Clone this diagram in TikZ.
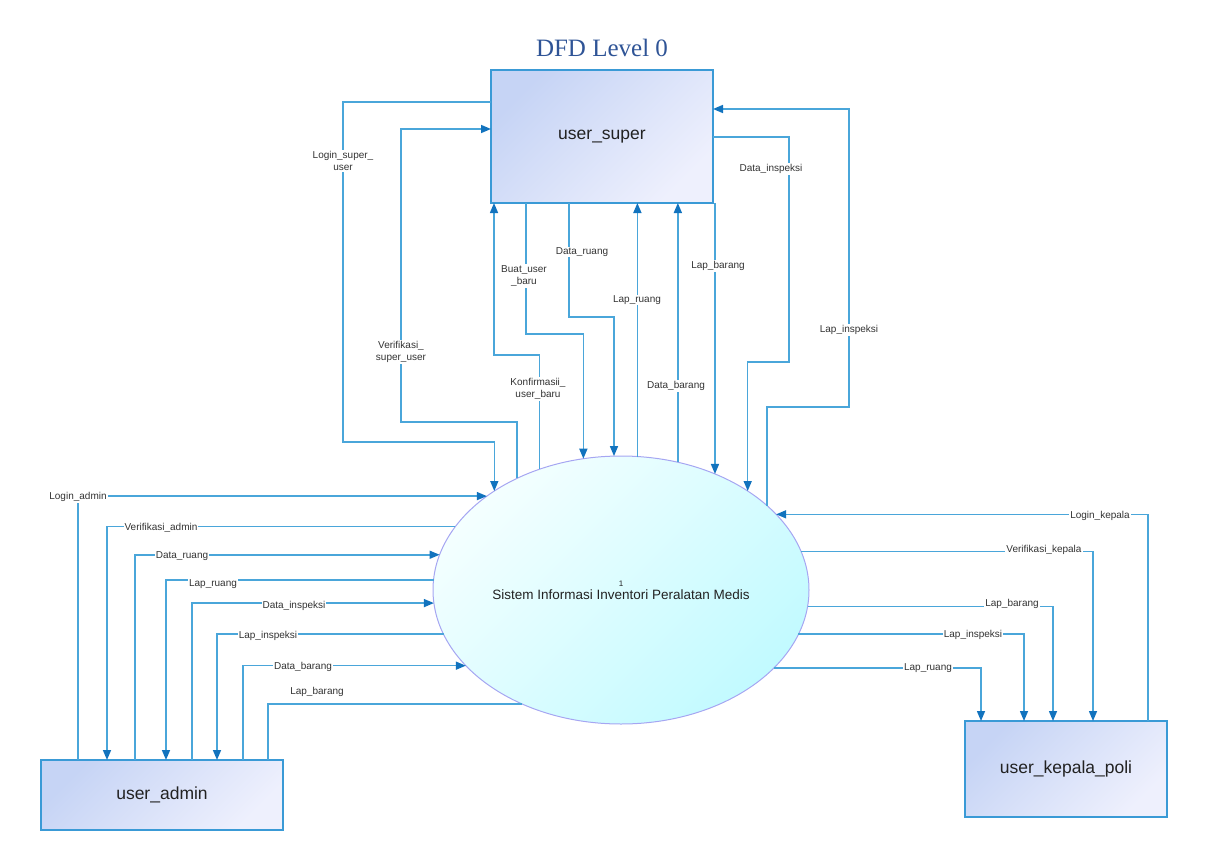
\documentclass[tikz,border=0pt]{standalone}
\usepackage{fontspec}
\setmainfont{Liberation Sans}
\newfontfamily\titlefont{Liberation Serif}
\usepackage{xcolor}
\usepackage{tikz}
\usetikzlibrary{shapes.geometric,arrows.meta}

\definecolor{flowblue}{HTML}{4AA6DA}
\definecolor{tipblue}{HTML}{1273BE}
\definecolor{boxline}{HTML}{3A9AD6}
\definecolor{boxA}{HTML}{C6D4F5}
\definecolor{boxB}{HTML}{EEF0FD}
\definecolor{procA}{HTML}{F4FFFF}
\definecolor{procB}{HTML}{C2FAFF}
\definecolor{procline}{HTML}{A6A6F2}
\definecolor{titleblue}{HTML}{2F5496}
\definecolor{textdark}{HTML}{222222}
\definecolor{labelgray}{HTML}{333333}

\begin{document}
\begin{tikzpicture}[x=1pt,y=1pt,
  entity/.style={draw=boxline, line width=1.3pt, top color=boxA, bottom color=boxB,
    shading angle=45, inner sep=0pt, outer sep=0pt, text=textdark,
    font=\fontsize{17.5}{20}\selectfont},
  process/.style={ellipse, draw=procline, line width=1pt, top color=procA, bottom color=procB,
    shading angle=45, inner sep=0pt, outer sep=0pt, minimum width=376pt, minimum height=268pt,
    align=center, text=textdark},
  flow/.style={draw=flowblue, line width=1.5pt, -{Triangle[length=10pt,width=8pt,color=tipblue]}},
  lbl/.style={fill=white, inner sep=1pt, text=labelgray, align=center,
    font=\fontsize{10}{12.5}\selectfont}]
  \useasboundingbox (0,0) rectangle (1208,-862);

  % Title
  \node[anchor=base, text=titleblue, font=\titlefont\fontsize{25}{28}\selectfont] (title) at (602,-56) {DFD Level 0};

  % Entities and process
  \node[entity, minimum width=222pt, minimum height=133pt] (super) at (602,-136.5) {user\_super};
  \node[entity, minimum width=242pt, minimum height=70pt] (admin) at (162,-795) {user\_admin};
  \node[entity, minimum width=202pt, minimum height=96pt] (kepala) at (1066,-769) {user\_kepala\_poli};
  \node[process] (proc) at (621,-590)
    {{\fontsize{8}{9}\selectfont 1}\\[1pt]{\fontsize{13.5}{16}\selectfont Sistem Informasi Inventori Peralatan Medis}};

  % Flows between user_super and the process
  \draw[flow] (super.west |- 0,-102) -| (343,-442) -| (proc.142.5);
  \draw[flow] (proc.133.7) |- (401,-422) |- (super.west |- 0,-129);
  \draw[flow] (super.south -| 526,0) |- (proc.106.2 |- 0,-334) -- (proc.106.2);
  \draw[flow] (proc.124.6) |- (494,-355) -- (super.south -| 494,0);
  \draw[flow] (super.south -| 569,0) |- (proc.93.8 |- 0,-317) -- (proc.93.8);
  \draw[flow] (proc.83.2) -- (proc.83.2 |- super.south);
  \draw[flow] (proc.66.8) -- (proc.66.8 |- super.south);
  \draw[flow] (proc.51.8 |- super.south) -- (proc.51.8);
  \draw[flow] (super.east |- 0,-137) -| (789,-362) -| (proc.38.3);
  \draw[flow] (proc.30) |- (849,-407) |- (super.east |- 0,-109);

  % Flows between user_admin and the process
  \draw[flow] (admin.north -| 78,0) |- (proc.145);
  \draw[flow] (proc.159.2) -| (admin.north -| 107,0);
  \draw[flow] (admin.north -| 135,0) |- (proc.169.4);
  \draw[flow] (proc.177.9) -| (admin.north -| 166,0);
  \draw[flow] (admin.north -| 192,0) |- (proc.184.9);
  \draw[flow] (proc.194.9) -| (admin.north -| 217,0);
  \draw[flow] (admin.north -| 243,0) |- (proc.206.6);
  \draw[flow, -] (proc.229.1) -| (admin.north -| 268,0);

  % Flows between user_kepala_poli and the process
  \draw[flow] (kepala.north -| 1148,0) |- (proc.26.6);
  \draw[flow] (proc.12.9) -| (kepala.north -| 1093,0);
  \draw[flow] (proc.355.4) -| (kepala.north -| 1053,0);
  \draw[flow] (proc.346.4) -| (kepala.north -| 1024,0);
  \draw[flow] (proc.333) -| (kepala.north -| 981,0);

  % Labels, top
  \node[lbl] (l1) at (343,-161) {Login\_super\_\\user};
  \node[lbl] (l2) at (401,-352) {Verifikasi\_\\super\_user};
  \node[lbl] (l3) at (524,-276) {Buat\_user\\\_baru};
  \node[lbl] (l4) at (538,-389) {Konfirmasii\_\\user\_baru};
  \node[lbl] (l5) at (582,-252) {Data\_ruang};
  \node[lbl] (l6) at (637,-300) {Lap\_ruang};
  \node[lbl] (l7) at (676,-386) {Data\_barang};
  \node[lbl] (l8) at (718,-266) {Lap\_barang};
  \node[lbl] (l9) at (771,-169) {Data\_inspeksi};
  \node[lbl] (l10) at (849,-330) {Lap\_inspeksi};

  % Labels, left
  \node[lbl] (l11) at (78,-497) {Login\_admin};
  \node[lbl] (l12) at (161,-528) {Verifikasi\_admin};
  \node[lbl] (l13) at (182,-556) {Data\_ruang};
  \node[lbl] (l14) at (213,-584) {Lap\_ruang};
  \node[lbl] (l15) at (294,-606) {Data\_inspeksi};
  \node[lbl] (l16) at (268,-636) {Lap\_inspeksi};
  \node[lbl] (l17) at (303,-667) {Data\_barang};
  \node[lbl] (l18) at (317,-692) {Lap\_barang};

  % Labels, right
  \node[lbl] (l19) at (1100,-516) {Login\_kepala};
  \node[lbl] (l20) at (1044,-550) {Verifikasi\_kepala};
  \node[lbl] (l21) at (1012,-604) {Lap\_barang};
  \node[lbl] (l22) at (973,-635) {Lap\_inspeksi};
  \node[lbl] (l23) at (928,-668) {Lap\_ruang};
\end{tikzpicture}
\end{document}
